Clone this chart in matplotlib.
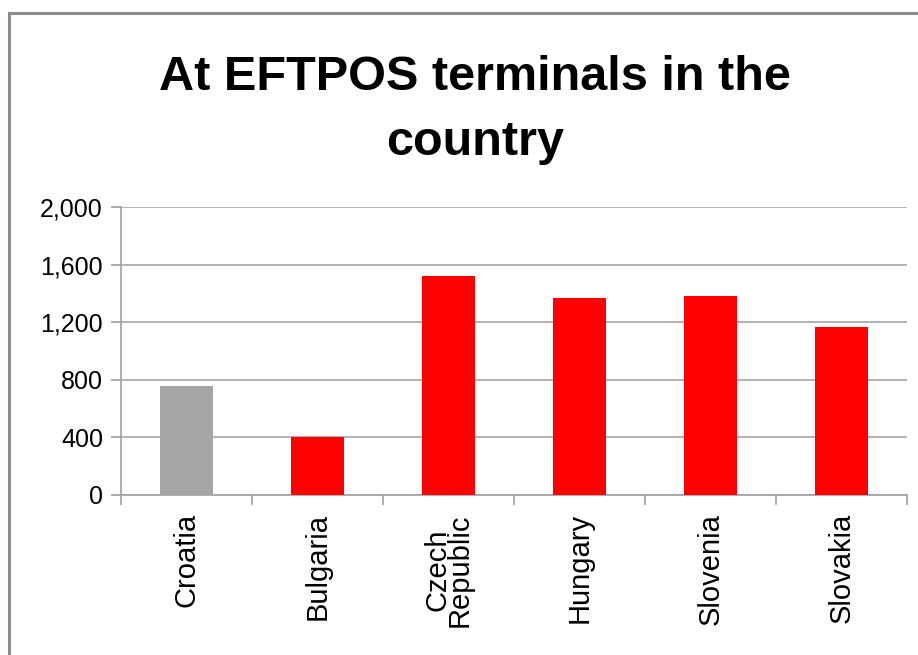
import numpy as np
import matplotlib
matplotlib.use("Agg")
import matplotlib.pyplot as plt
from matplotlib.patches import Rectangle

# data
countries = ["Croatia", "Bulgaria", "Czech\nRepublic", "Hungary", "Slovenia", "Slovakia"]
values = [755, 405, 1523, 1365, 1384, 1170]
bar_colors = ["#a6a6a6", "#ff0000", "#ff0000", "#ff0000", "#ff0000", "#ff0000"]
y_ticks = [0, 400, 800, 1200, 1600, 2000]
title_lines = ["At EFTPOS terminals in the", "country"]

W, H = 918, 655
fig = plt.figure(figsize=(W / 100, H / 100), dpi=100)
fig.patch.set_facecolor("white")

narrow = ["Liberation Sans Narrow", "Liberation Sans", "DejaVu Sans"]
regular = ["Liberation Sans", "DejaVu Sans"]

# outer frame of the chart area
fig.patches.append(Rectangle((9 / W, -0.1), 1.2, 1.1 - 13 / H, transform=fig.transFigure,
                             fill=False, edgecolor="#8c8c8c", linewidth=2.2))

ax = fig.add_axes([121 / W, 1 - 495 / H, (907 - 121) / W, (495 - 207) / H])
x = np.arange(len(countries))
ax.bar(x, values, width=0.4, color=bar_colors, zorder=3)

ax.set_xlim(-0.5, len(countries) - 0.5)
ax.set_ylim(0, 2000)
ax.set_yticks(y_ticks)
ax.set_yticklabels([f"{v:,}" for v in y_ticks], family=narrow, fontsize=18)
ax.grid(axis="y", color="#a6a6a6", linewidth=1.2, zorder=0)

ax.set_xticks(x)
ax.set_xticklabels(countries, rotation=90, family=regular, fontsize=21,
                   linespacing=0.72, va="top", ha="center")
ax.set_xticks(np.arange(len(countries) + 1) - 0.5, minor=True)
ax.tick_params(axis="x", which="major", length=0, pad=13)
ax.tick_params(axis="x", which="minor", length=7, color="#a0a0a0", width=1.2, direction="out")
ax.tick_params(axis="y", length=7, color="#a0a0a0", width=1.2, pad=6)

for s in ["top", "right"]:
    ax.spines[s].set_visible(False)
for s in ["left", "bottom"]:
    ax.spines[s].set_color("#a0a0a0")
    ax.spines[s].set_linewidth(1.2)

fig.text(475 / W, 1 - 90 / H, title_lines[0], ha="center", va="baseline",
         family=narrow, fontweight="bold", fontsize=35)
fig.text(475 / W, 1 - 155 / H, title_lines[1], ha="center", va="baseline",
         family=narrow, fontweight="bold", fontsize=35)

fig.savefig("out.png", dpi=100)
